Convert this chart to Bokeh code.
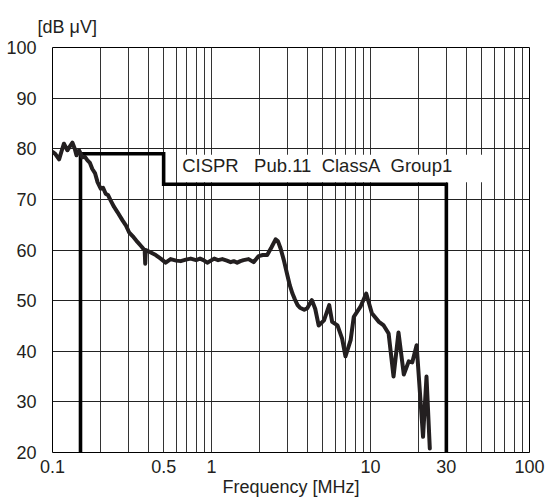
from bokeh.plotting import figure
from bokeh.models import FixedTicker, Label, NumeralTickFormatter
from bokeh.embed import file_html
from bokeh.resources import INLINE

# ---- data ----
freq_mhz = [0.100, 0.104, 0.110, 0.114, 0.118, 0.124, 0.129, 0.1335, 0.138, 0.1415,
            0.147, 0.154, 0.160, 0.166, 0.172, 0.178, 0.185, 0.192, 0.201, 0.208,
            0.216, 0.224, 0.232, 0.244, 0.256, 0.275, 0.290, 0.303, 0.320, 0.342,
            0.365, 0.380, 0.383, 0.386, 0.410, 0.446, 0.479, 0.515, 0.553, 0.600,
            0.640, 0.690, 0.740, 0.800, 0.847, 0.890, 0.940, 1.04, 1.10, 1.17,
            1.25, 1.32, 1.38, 1.45, 1.52, 1.59, 1.71, 1.84, 1.98, 2.10,
            2.24, 2.38, 2.53, 2.62, 2.72, 2.85, 2.99, 3.11, 3.23, 3.35,
            3.48, 3.60, 3.83, 4.00, 4.28, 4.49, 4.72, 5.10, 5.50, 5.74,
            6.20, 6.63, 6.96, 7.50, 7.85, 8.65, 9.40, 10.2, 11.3, 12.1,
            13.0, 13.96, 15.0, 16.2, 17.4, 18.3, 19.5, 21.4, 22.5, 23.6]
level_dbuv = [79.4, 79.0, 77.9, 79.5, 81.0, 79.7, 80.5, 81.2, 80.0, 78.7,
              79.7, 78.3, 78.4, 77.7, 77.2, 76.0, 75.2, 73.4, 72.1, 72.3,
              71.1, 70.8, 69.8, 68.5, 67.5, 65.9, 64.8, 63.5, 62.7, 61.6,
              60.6, 59.9, 57.3, 60.0, 59.6, 59.0, 58.3, 57.5, 58.2, 57.9,
              57.8, 58.1, 58.3, 58.0, 58.3, 58.0, 57.5, 58.3, 58.0, 58.2,
              57.9, 57.6, 57.8, 57.5, 57.8, 58.0, 58.2, 57.6, 58.8, 59.0,
              59.0, 60.5, 62.1, 61.7, 60.3, 58.0, 55.2, 53.0, 51.4, 50.2,
              49.1, 48.6, 48.2, 48.5, 50.1, 48.4, 45.1, 46.1, 49.1, 45.8,
              45.1, 42.5, 39.0, 42.2, 46.8, 48.8, 51.4, 47.5, 45.8, 45.1,
              43.5, 35.0, 43.7, 35.4, 38.0, 37.8, 41.2, 23.1, 35.0, 20.8]

limit_freq = [0.15, 0.15, 0.5, 0.5, 30, 30]
limit_level = [20, 79, 79, 73, 73, 20]

x_tick_values = [0.1, 0.5, 1, 10, 30, 100]
x_tick_labels = ["0.1", "0.5", "1", "10", "30", "100"]
y_tick_values = [20, 30, 40, 50, 60, 70, 80, 90, 100]
x_grid_values = [0.2, 0.3, 0.4, 0.5, 0.6, 0.7, 0.8, 0.9,
                 1, 2, 3, 4, 5, 6, 7, 8, 9,
                 10, 20, 30, 40, 50, 60, 70, 80, 90]
y_grid_values = [30, 40, 50, 60, 70, 80, 90]

limit_text = "CISPR\u00a0\u00a0\u00a0Pub.11\u00a0\u00a0ClassA\u00a0\u00a0Group1"
y_unit_text = "[dB \u03bcV]"
x_title_text = "Frequency [MHz]"

FONT = "Liberation Sans"
TXT = "#231f20"

p = figure(width=548, height=502, x_axis_type="log",
           x_range=(0.1, 100), y_range=(20, 100),
           output_backend="svg", toolbar_location=None,
           min_border_left=52, min_border_right=19,
           min_border_top=47, min_border_bottom=50)
p.background_fill_color = "white"
p.border_fill_color = "white"
p.outline_line_color = "black"
p.outline_line_width = 1

# unit caption above the y axis (as the plot title)
p.title.text = y_unit_text
p.title.align = "left"
p.title.vertical_align = "top"
p.title.standoff = 18
p.title.offset = -15
p.title.text_font = FONT
p.title.text_font_size = "18px"
p.title.text_font_style = "normal"
p.title.text_color = TXT

# grids
p.xgrid.ticker = FixedTicker(ticks=x_grid_values)
p.ygrid.ticker = FixedTicker(ticks=y_grid_values)
p.xgrid.grid_line_color = "#333333"
p.ygrid.grid_line_color = "#222222"
p.xgrid.grid_line_width = 1
p.ygrid.grid_line_width = 1

# axes
p.xaxis.ticker = FixedTicker(ticks=x_tick_values, minor_ticks=[])
p.xaxis.formatter = NumeralTickFormatter(format="0.[0]")
p.xaxis.major_label_overrides = dict(zip(x_tick_values, x_tick_labels))
p.yaxis.ticker = FixedTicker(ticks=y_tick_values, minor_ticks=[])
for ax in (p.xaxis[0], p.yaxis[0]):
    ax.axis_line_color = None
    ax.major_tick_in = 0
    ax.major_tick_out = 0
    ax.minor_tick_in = 0
    ax.minor_tick_out = 0
    ax.major_label_text_font = FONT
    ax.major_label_text_font_size = "18px"
    ax.major_label_text_color = TXT
p.xaxis.major_label_standoff = 7
p.yaxis.major_label_standoff = 16
p.xaxis.axis_label = x_title_text
p.xaxis.axis_label_standoff = 1
p.xaxis.axis_label_text_font = FONT
p.xaxis.axis_label_text_font_size = "18px"
p.xaxis.axis_label_text_font_style = "normal"
p.xaxis.axis_label_text_color = TXT

# white box behind the limit caption
p.quad(left=[0.63], right=[53], bottom=[73.4], top=[78.8],
       fill_color="white", line_color=None)

# limit line
p.line(limit_freq, limit_level, line_color="black", line_width=3.6,
       line_join="miter", line_cap="butt")

# measured curve
p.line(freq_mhz, level_dbuv, line_color="#231f20", line_width=4,
       line_join="round", line_cap="round")

p.add_layout(Label(x=0.5, y=76.7, text=limit_text, x_offset=18.5,
                   text_baseline="middle", text_align="left",
                   text_font=FONT, text_font_size="18.5px", text_color=TXT))

open("out.html", "w").write(file_html(p, INLINE))
